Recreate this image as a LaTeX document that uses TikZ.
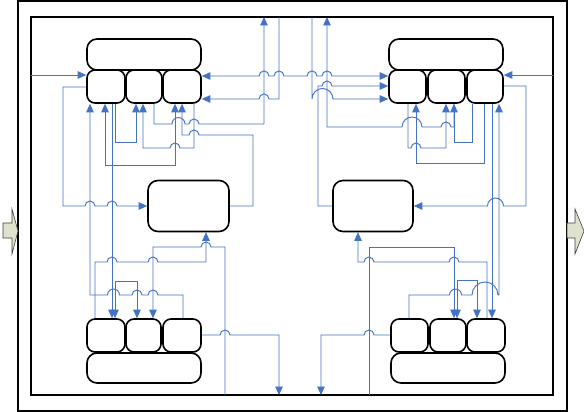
\documentclass[tikz,border=0pt]{standalone}
\usetikzlibrary{arrows.meta}
\definecolor{wireblue}{RGB}{68,114,196}
\definecolor{arrowfill}{RGB}{222,225,206}
\tikzset{
  box/.style={draw,line width=1.6pt,rounded corners=8pt,inner sep=0pt,minimum height=33pt},
  bar/.style={box,minimum width=114pt,rounded corners=10pt},
  wire/.style={draw=wireblue,line width=0.95pt},
  arr/.style={-{Triangle[length=8.5pt,width=7.5pt]}},
  twoway/.style={{Triangle[length=8.5pt,width=7.5pt]}-{Triangle[length=8.5pt,width=7.5pt]}}
}
% hops over crossing wires
\newcommand\hopr[2]{-- ({#1-5},#2) arc[start angle=180,end angle=360,radius=5]}
\newcommand\hopl[2]{-- ({#1+5},#2) arc[start angle=0,end angle=-180,radius=5]}
\newcommand\hoprw[3]{-- ({#1-#3},#2) arc[start angle=180,end angle=360,radius=#3]}
\newcommand\hoplw[3]{-- ({#1+#3},#2) arc[start angle=0,end angle=-180,radius=#3]}
\begin{document}
\begin{tikzpicture}[x=1pt,y=-1pt]
\useasboundingbox (0,0) rectangle (584,412);
\draw[line width=1.3pt] (18,1) rectangle (567,411);
\draw[line width=1.3pt] (31,17) rectangle (553,395);
\draw[fill=arrowfill,draw=black!75,line width=0.6pt] (3,223) -- (12,223) -- (12,209) -- (18,231) -- (12,254) -- (12,238) -- (3,238) -- cycle;
\draw[fill=arrowfill,draw=black!75,line width=0.6pt] (567,223) -- (575,223) -- (575,209) -- (584,231) -- (575,254) -- (575,238) -- (567,238) -- cycle;

% upper left group
\node[bar,minimum height=31pt] (tlbar) at (144,54.5) {};
\node[box,minimum width=38pt] (tl1) at (106,86.5) {};
\node[box,minimum width=36pt] (tl2) at (144,86.5) {};
\node[box,minimum width=38pt] (tl3) at (182,86.5) {};
% upper right group
\node[bar,minimum height=31pt] (trbar) at (446,54.5) {};
\node[box,minimum width=37pt] (tr1) at (407.5,86.5) {};
\node[box,minimum width=37pt] (tr2) at (446.5,86.5) {};
\node[box,minimum width=36pt] (tr3) at (485,86.5) {};
% middle
\node[box,minimum width=81pt,minimum height=51pt,rounded corners=10pt] (cl) at (188.5,206) {};
\node[box,minimum width=80pt,minimum height=51pt,rounded corners=10pt] (cr) at (373,206) {};
% lower left group
\node[box,minimum width=38pt] (bl1) at (106,335.5) {};
\node[box,minimum width=35pt] (bl2) at (143.5,335.5) {};
\node[box,minimum width=38pt] (bl3) at (182,335.5) {};
\node[bar,minimum height=30pt] (blbar) at (144,368) {};
% lower right group
\node[box,minimum width=37pt] (br1) at (409.5,335.5) {};
\node[box,minimum width=36pt] (br2) at (448,335.5) {};
\node[box,minimum width=38pt] (br3) at (486,335.5) {};
\node[bar,minimum height=30pt] (brbar) at (448,368) {};

\coordinate (inl) at (31,75);
\coordinate (inr) at (553,75);
\coordinate (outta) at (264,17);
\coordinate (inta) at (279,17);
\coordinate (intb) at (312,17);
\coordinate (outtb) at (327,17);
\coordinate (inba) at (225,395);
\coordinate (outba) at (279,395);
\coordinate (outbb) at (321,395);
\coordinate (inbb) at (369,395);

% upper left wiring
\draw[wire,arr] (inl) -- (inl -| tl1.west);
\draw[wire,arr] (0,87 -| tl1.west) -- (63,87) -- (63,206) \hopr{90}{206} \hopr{112}{206} -- (cl.west);
\draw[wire,arr] (183,0 |- bl3.north) -- (183,295) \hopl{153}{295} \hopl{137}{295} \hoplw{113.5}{295}{6} -- (90,295) -- (90,0 |- tl1.south);
\draw[wire,twoway] (105,0 |- tl1.south) -- (105,165) -- (175,165) -- (175,0 |- tl3.south);
\draw[wire,arr] (112,0 |- tl1.south) -- (112,0 |- bl1.north);
\draw[wire,arr] (115,0 |- tl1.south) -- (115,142) -- (136,142) -- (136,0 |- tl2.south);
\draw[wire,arr] (194,0 |- tl3.south) -- (194,148) \hopl{175}{148} -- (143,148) -- (143,0 |- tl2.south);
\draw[wire,arr] (154,0 |- tl2.south) -- (154,124) \hoprw{178.5}{124}{6.5} \hopr{194}{124} -- (264,124) -- (outta);
\draw[wire,arr] (cl.east) -- (253,206) -- (253,135) \hopl{194}{135} -- (182,135) -- (182,0 |- tl3.south);
\draw[wire,arr] (inta) -- (279,99) \hopl{264}{99} -- (0,99 -| tl3.east);
\draw[wire,twoway] (0,76 -| tl3.east) \hopr{264}{76} \hopr{279}{76} \hopr{312}{76} \hopr{327}{76} -- (0,76 -| tr1.west);

% upper right wiring
\draw[wire,arr] (intb) -- (312,99) arc[start angle=180,end angle=360,radius=10.5] -- (0,99 -| tr1.west);
\draw[wire,arr] (cr.west) -- (318,206) -- (318,86) \hopr{327}{86} -- (0,86 -| tr1.west);
\draw[wire,arr] (454,0 |- tr2.south) -- (454,127) \hopl{446}{127} \hoplw{412}{127}{10} -- (327,127) -- (outtb);
\draw[wire,arr] (472,0 |- tr3.south) -- (472,142) -- (454,142) -- (454,0 |- tr2.south);
\draw[wire,arr] (408,0 |- tr1.south) -- (408,148) \hopr{416}{148} -- (446,148) -- (446,0 |- tr2.south);
\draw[wire,arr] (484,0 |- tr3.south) -- (484,163) -- (416,163) -- (416,0 |- tr1.south);
\draw[wire,arr] (492,0 |- tr3.south) -- (492,0 |- br3.north);
\draw[wire,arr] (409,0 |- br1.north) -- (409,295) \hoprw{455.5}{295}{6} \hoprw{485}{295}{13} -- (499,295) -- (499,0 |- tr3.south);
\draw[wire,arr] (0,86 -| tr3.east) -- (526,86) -- (526,206) \hoplw{495.5}{206}{8} -- (cr.east);
\draw[wire,arr] (inr) -- (inr -| tr3.east);

% lower left wiring
\draw[wire,arr] (95,0 |- bl1.north) -- (95,262) \hopr{112}{262} \hopr{153}{262} -- (206,262) -- (206,0 |- cl.south);
\draw[wire,arr] (inba) -- (225,247) \hopl{206}{247} -- (153,247) -- (153,0 |- bl2.north);
\draw[wire,twoway] (115,0 |- bl1.north) -- (115,281) -- (137,281) -- (137,0 |- bl2.north);
\draw[wire,arr] (0,335 -| bl3.east) \hopr{225}{335} -- (279,335) -- (outba);

% lower right wiring
\draw[wire,arr] (487,0 |- br3.north) -- (487,262) \hopl{454}{262} \hopl{369}{262} -- (358,262) -- (358,0 |- cr.south);
\draw[wire,arr] (inbb) -- (369,247) -- (454,247) -- (454,0 |- br2.north);
\draw[wire,twoway] (457,0 |- br2.north) -- (457,280) -- (477,280) -- (477,0 |- br3.north);
\draw[wire,arr] (0,335 -| br1.west) \hopl{369}{335} -- (321,335) -- (outbb);
\end{tikzpicture}
\end{document}
